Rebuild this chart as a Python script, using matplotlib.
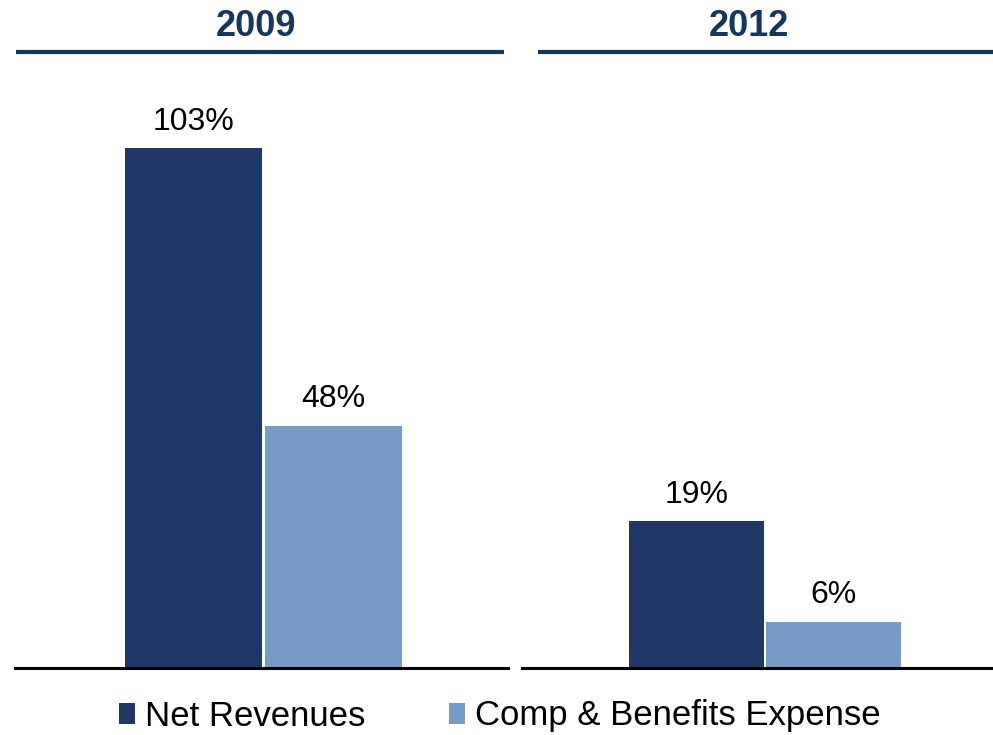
import matplotlib
matplotlib.use("Agg")
import matplotlib.pyplot as plt
from matplotlib.patches import Patch
from matplotlib.lines import Line2D

plt.rcParams['font.family'] = ['Liberation Sans', 'DejaVu Sans']

# data
years = ["2009", "2012"]
series = ["Net Revenues", "Comp & Benefits Expense"]
net_rev = [103, 19]
comp_ben = [48, 6]
labels_net = ["103%", "19%"]
labels_comp = ["48%", "6%"]

dark = '#1F3868'
light = '#759BC6'
navy = '#14375F'

W, H = 993, 735
fig = plt.figure(figsize=(W / 100, H / 100), dpi=100)

# panel geometry in pixels: (left, right, xlim, ylim top)
panels = [
    (15, 508, (-1.275, 2.246), 120.4),
    (522, 993, (-1.274, 2.164), 78.5),
]
base_y = 668
top_y = 60

for i, (x0, x1, xl, ytop) in enumerate(panels):
    ax = fig.add_axes([x0 / W, 1 - base_y / H, (x1 - x0) / W, (base_y - top_y) / H])
    ax.bar(0, net_rev[i], width=0.985, color=dark)
    ax.bar(1, comp_ben[i], width=0.985, color=light)
    ax.annotate(labels_net[i], (0, net_rev[i]), xytext=(0, 8), textcoords='offset points',
                ha='center', va='bottom', fontsize=23)
    ax.annotate(labels_comp[i], (1, comp_ben[i]), xytext=(0, 8), textcoords='offset points',
                ha='center', va='bottom', fontsize=23)
    ax.set_xlim(*xl)
    ax.set_ylim(0, ytop)
    for s in ['top', 'right', 'left']:
        ax.spines[s].set_visible(False)
    ax.spines['bottom'].set_linewidth(2.2)
    ax.spines['bottom'].set_color('black')
    ax.set_xticks([])
    ax.set_yticks([])
    ax.patch.set_alpha(0)

# headers
fig.text(256 / W, 1 - 26 / H, years[0], ha='center', va='center',
         fontsize=26, fontweight='bold', color=navy)
fig.text(749 / W, 1 - 26 / H, years[1], ha='center', va='center',
         fontsize=26, fontweight='bold', color=navy)
for x0, x1 in [(16, 504), (538, 993)]:
    fig.add_artist(Line2D([x0 / W, x1 / W], [1 - 52 / H, 1 - 52 / H],
                          color=navy, linewidth=3, solid_capstyle='butt'))

handles = [Patch(facecolor=dark), Patch(facecolor=light)]
fig.legend(handles, series, loc='center', bbox_to_anchor=(500 / W, 1 - 716 / H),
           ncol=2, frameon=False, fontsize=25, handlelength=0.45, handleheight=0.55,
           handletextpad=0.3, columnspacing=2.4, borderpad=0)

fig.savefig("out.png", dpi=100)
